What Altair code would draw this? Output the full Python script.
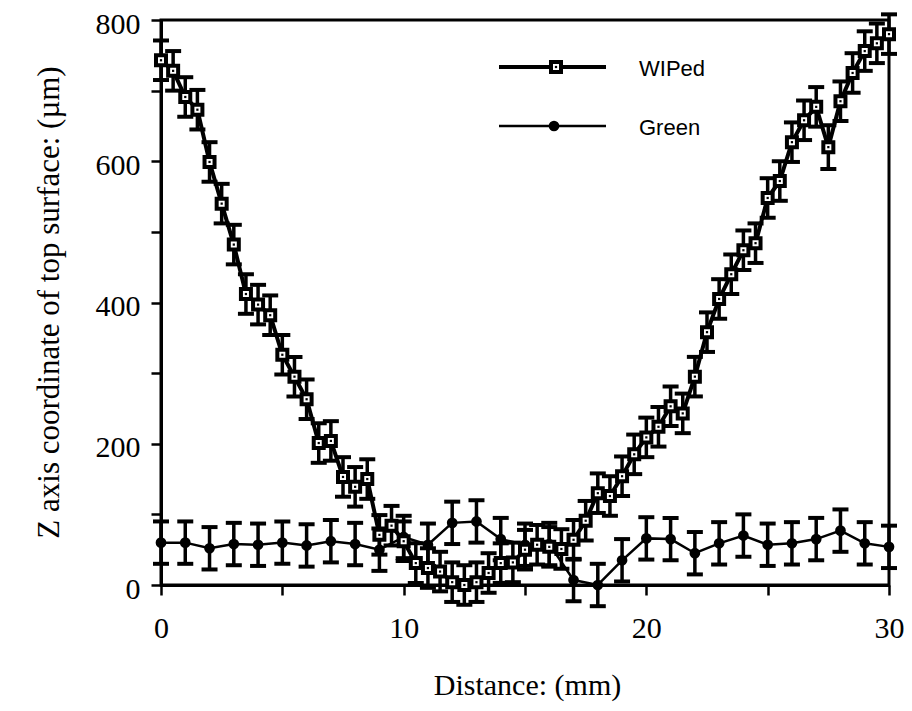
import altair as alt
import pandas as pd

# ---- data ----
wiped_x = [0, 0.5, 1, 1.5, 2, 2.5, 3, 3.5, 4, 4.5, 5, 5.5, 6, 6.5, 7, 7.5, 8, 8.5, 9, 9.5,
           10, 10.5, 11, 11.5, 12, 12.5, 13, 13.5, 14, 14.5, 15, 15.5, 16, 16.5, 17, 17.5,
           18, 18.5, 19, 19.5, 20, 20.5, 21, 21.5, 22, 22.5, 23, 23.5, 24, 24.5, 25, 25.5,
           26, 26.5, 27, 27.5, 28, 28.5, 29, 29.5, 30]
wiped_y = [743, 728, 691, 673, 599, 540, 482, 412, 397, 382, 326, 295, 263, 201, 204, 153,
           139, 150, 71, 84, 62, 31, 24, 19, 4, 0, 4, 17, 31, 32, 50, 57, 54, 51, 64, 91,
           130, 126, 154, 185, 209, 224, 253, 243, 295, 358, 405, 440, 474, 484, 548, 572,
           627, 658, 677, 620, 685, 725, 756, 767, 780]
wiped_err = [28, 28, 28, 28, 28, 28, 28, 28, 28, 28, 28, 28, 28, 28, 28, 28,
             28, 28, 28, 28, 28, 28, 28, 28, 28, 28, 28, 28, 28, 28, 28, 28, 28, 28, 28, 28,
             28, 28, 28, 28, 28, 28, 28, 28, 28, 28, 28, 28, 28, 28, 28, 28,
             28, 28, 28, 31, 28, 28, 28, 28, 28]

green_x = [0, 1, 2, 3, 4, 5, 6, 7, 8, 9, 10, 11, 12, 13, 14, 15, 16, 17, 18, 19, 20,
           21, 22, 23, 24, 25, 26, 27, 28, 29, 30]
green_y = [60, 60, 52, 58, 57, 60, 56, 62, 58, 50, 68, 57, 88, 90, 65, 57, 58, 7, 0, 35,
           66, 65, 45, 59, 70, 57, 59, 65, 77, 59, 54]
green_err = [30, 30, 30, 30, 30, 30, 30, 30, 30, 30, 30, 30, 30, 30, 30, 30, 30, 30, 30, 30,
             30, 30, 30, 30, 30, 30, 30, 30, 30, 30, 30]

series_names = ["WIPed", "Green"]

wiped = pd.DataFrame({"x": wiped_x, "y": wiped_y, "err": wiped_err})
wiped["lo"] = wiped["y"] - wiped["err"]
wiped["hi"] = wiped["y"] + wiped["err"]
green = pd.DataFrame({"x": green_x, "y": green_y, "err": green_err})
green["lo"] = green["y"] - green["err"]
green["hi"] = green["y"] + green["err"]

W, H = 728, 565
SERIF = "Liberation Serif"
SANS = "Liberation Sans"

xscale = alt.Scale(domain=[0, 30], nice=False, zero=False)
yscale = alt.Scale(domain=[0, 800], nice=False)

xaxis = alt.Axis(
    values=[0, 5, 10, 15, 20, 25, 30],
    labelExpr="datum.value % 10 == 0 ? datum.label : ''",
    title="Distance: (mm)", titleFont=SERIF, titleFontSize=30, titleFontWeight="normal",
    titleColor="black", titleX=366, titleY=100, titleBaseline="middle", titleAlign="center",
    labelFont=SERIF, labelFontSize=30, labelColor="black", labelPadding=18,
    tickSize=10, tickWidth=2.5, tickColor="black", domainColor="black", domainWidth=3,
    grid=False, labelFlush=False,
)
yaxis = alt.Axis(
    values=[0, 100, 200, 300, 400, 500, 600, 700, 800],
    labelExpr="datum.value % 200 == 0 ? datum.label : ''",
    title="Z axis coordinate of top surface: (µm)", titleFont=SERIF, titleFontSize=31,
    titleFontWeight="normal", titleColor="black", titleX=-112, titleY=282,
    titleAngle=270, titleBaseline="middle", titleAlign="center",
    labelFont=SERIF, labelFontSize=30, labelColor="black", labelPadding=11, labelOffset=4,
    tickSize=10, tickWidth=2.5, tickColor="black", domainColor="black", domainWidth=3,
    grid=False, labelFlush=False,
)

X = alt.X("x:Q", scale=xscale, axis=xaxis)
Y = alt.Y("y:Q", scale=yscale, axis=yaxis)


def series_layers(df, line_w):
    base = alt.Chart(df)
    bars = base.mark_rule(color="black", strokeWidth=3.5).encode(
        x=alt.X("x:Q", scale=xscale), y=alt.Y("lo:Q", scale=yscale), y2="hi:Q")
    cap_lo = base.mark_tick(color="black", orient="horizontal", size=16, thickness=4,
                            opacity=1).encode(
        x=alt.X("x:Q", scale=xscale), y=alt.Y("lo:Q", scale=yscale))
    cap_hi = base.mark_tick(color="black", orient="horizontal", size=16, thickness=4,
                            opacity=1).encode(
        x=alt.X("x:Q", scale=xscale), y=alt.Y("hi:Q", scale=yscale))
    line = base.mark_line(color="black", strokeWidth=line_w).encode(x=X, y=Y)
    return [bars, cap_lo, cap_hi, line]


w_layers = series_layers(wiped, 4)
w_pts = alt.Chart(wiped).mark_point(shape="square", size=100, filled=True, fill="white",
                                    stroke="black", strokeWidth=4, opacity=1).encode(
    x=alt.X("x:Q", scale=xscale), y=alt.Y("y:Q", scale=yscale))
w_dot = alt.Chart(wiped).mark_point(shape="square", size=5, filled=True, color="black",
                                    opacity=1).encode(
    x=alt.X("x:Q", scale=xscale), y=alt.Y("y:Q", scale=yscale))

g_layers = series_layers(green, 2.5)
g_pts = alt.Chart(green).mark_point(shape="circle", size=115, filled=True, color="black",
                                    opacity=1).encode(
    x=alt.X("x:Q", scale=xscale), y=alt.Y("y:Q", scale=yscale))

# ---- legend (inside the plot, pixel positions) ----
one = pd.DataFrame({"k": [0]})
leg_y = [47, 106]
legend_layers = []
for name, ly, lw in zip(series_names, leg_y, [4, 2.5]):
    legend_layers.append(alt.Chart(one).mark_rule(color="black", strokeWidth=lw).encode(
        x=alt.value(338), x2=alt.value(445), y=alt.value(ly)))
    legend_layers.append(alt.Chart(one).mark_text(
        font=SANS, fontSize=22, align="left", baseline="middle", color="black").encode(
        x=alt.value(478), y=alt.value(ly + 2), text=alt.value(name)))
legend_layers.append(alt.Chart(one).mark_point(shape="square", size=100, filled=True,
                                               fill="white", stroke="black", strokeWidth=4,
                                               opacity=1).encode(
    x=alt.value(395), y=alt.value(leg_y[0])))
legend_layers.append(alt.Chart(one).mark_point(shape="square", size=5, filled=True,
                                               color="black", opacity=1).encode(
    x=alt.value(395), y=alt.value(leg_y[0])))
legend_layers.append(alt.Chart(one).mark_point(shape="circle", size=115, filled=True,
                                               color="black", opacity=1).encode(
    x=alt.value(393), y=alt.value(leg_y[1])))

chart = alt.layer(
    *g_layers, g_pts, *w_layers, w_pts, w_dot, *legend_layers
).properties(
    width=W, height=H,
    autosize=alt.AutoSizeParams(type="none"),
    padding={"left": 153, "top": 12, "right": 15, "bottom": 117},
    background="white",
).configure_view(
    stroke="black", strokeWidth=3,
)

chart.save("out.html", embed_options={"renderer": "svg", "actions": False})
